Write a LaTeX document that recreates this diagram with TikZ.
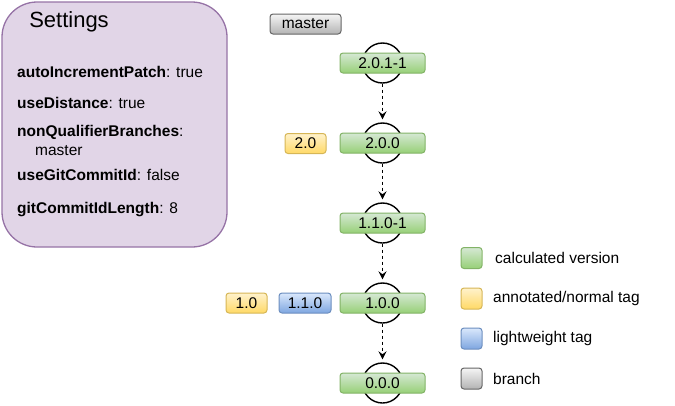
\documentclass[tikz,border=0pt]{standalone}
\usepackage{fontspec}
\setmainfont{Liberation Sans}
\usetikzlibrary{arrows.meta}
\definecolor{calcline}{HTML}{82B366}\definecolor{calctop}{HTML}{D5E8D4}\definecolor{calcbot}{HTML}{97D077}
\definecolor{annline}{HTML}{D6B656}\definecolor{anntop}{HTML}{FFF2CC}\definecolor{annbot}{HTML}{FFD966}
\definecolor{litline}{HTML}{6C8EBF}\definecolor{littop}{HTML}{DAE8FC}\definecolor{litbot}{HTML}{7EA6E0}
\definecolor{brline}{HTML}{666666}\definecolor{brtop}{HTML}{F5F5F5}\definecolor{brbot}{HTML}{B3B3B3}
\definecolor{setline}{HTML}{9673A6}\definecolor{setfill}{HTML}{E1D5E7}
\tikzstyle{tagbox}=[rectangle,rounded corners=3pt,minimum height=20pt,inner sep=0,line width=1pt,font=\fontsize{15.5}{18}\selectfont]
\tikzstyle{calc}=[tagbox,minimum width=85pt,draw=calcline,top color=calctop,bottom color=calcbot]
\tikzstyle{annot}=[tagbox,minimum width=41pt,draw=annline,top color=anntop,bottom color=annbot]
\tikzstyle{light}=[tagbox,minimum width=52pt,draw=litline,top color=littop,bottom color=litbot]
\tikzstyle{branch}=[tagbox,minimum width=71pt,draw=brline,top color=brtop,bottom color=brbot]
\tikzstyle{commit}=[shape=circle,minimum size=40pt,inner sep=0,draw,line width=1.4pt]
\tikzstyle{arrow}=[line width=0.9pt,dash pattern=on 3pt off 3pt,shorten >=3pt,-{Stealth[length=8pt,width=8pt,inset=3pt]}]
\tikzstyle{keybox}=[rectangle,rounded corners=3pt,minimum size=21pt,inner sep=0,line width=1pt]
\tikzstyle{keytext}=[anchor=west,inner sep=0,font=\fontsize{15.5}{18}\selectfont]
\tikzstyle{setting}=[anchor=west,inner sep=0,font=\fontsize{15.5}{18}\selectfont]

\begin{document}
\begin{tikzpicture}[x=1pt,y=-1pt]
\useasboundingbox (0,0) rectangle (675,405);
% settings panel
\node[rectangle,rounded corners=35pt,draw=setline,fill=setfill,line width=1.3pt,minimum width=225pt,minimum height=245pt] (settings) at (114.5,124.5) {};
\node[font=\fontsize{22}{24}\selectfont,inner sep=0] (title) at (69,22) {Settings};
\node[setting] (autoinc) at (17,72) {\textbf{autoIncrementPatch}: true};
\node[setting] (usedist) at (17,103) {\textbf{useDistance}: true};
\node[setting] (nonqual) at (17,132) {\textbf{nonQualifierBranches}:};
\node[setting] (nonqualval) at (35,151) {master};
\node[setting] (usegit) at (17,175) {\textbf{useGitCommitId}: false};
\node[setting] (gitlen) at (17,210) {\textbf{gitCommitIdLength}: 8};
% commits
\foreach \name/\y in {a/63,b/143,c/223,d/303,e/383}
	\node[commit] (c\name) at (382.5,\y) {};
\foreach \name/\y/\txt in {a/63/2.0.1-1,b/143/2.0.0,c/223/1.1.0-1,d/303/1.0.0,e/383/0.0.0}
	\node[calc] (v\name) at (382.5,\y) {\txt};
\draw[arrow] (ca)--(cb);
\draw[arrow] (cb)--(cc);
\draw[arrow] (cc)--(cd);
\draw[arrow] (cd)--(ce);
% tags
\node[branch] (master) at (305.5,24) {master};
\node[annot] (tagtwo) at (305.5,143.5) {2.0};
\node[annot] (tagone) at (246.5,303) {1.0};
\node[light] (lighttag) at (305,303) {1.1.0};
% legend
\node[keybox,draw=calcline,top color=calctop,bottom color=calcbot] (keycalc) at (471.5,258) {};
\node[keybox,draw=annline,top color=anntop,bottom color=annbot] (keyann) at (471.5,298.5) {};
\node[keybox,draw=litline,top color=littop,bottom color=litbot] (keylight) at (471.5,338.5) {};
\node[keybox,draw=brline,top color=brtop,bottom color=brbot] (keybranch) at (471.5,378.5) {};
\node[keytext] at (495,258) {calculated version};
\node[keytext] at (493,298.5) {annotated/normal tag};
\node[keytext] at (493,338.5) {lightweight tag};
\node[keytext] at (493,378.5) {branch};
\end{tikzpicture}
\end{document}
